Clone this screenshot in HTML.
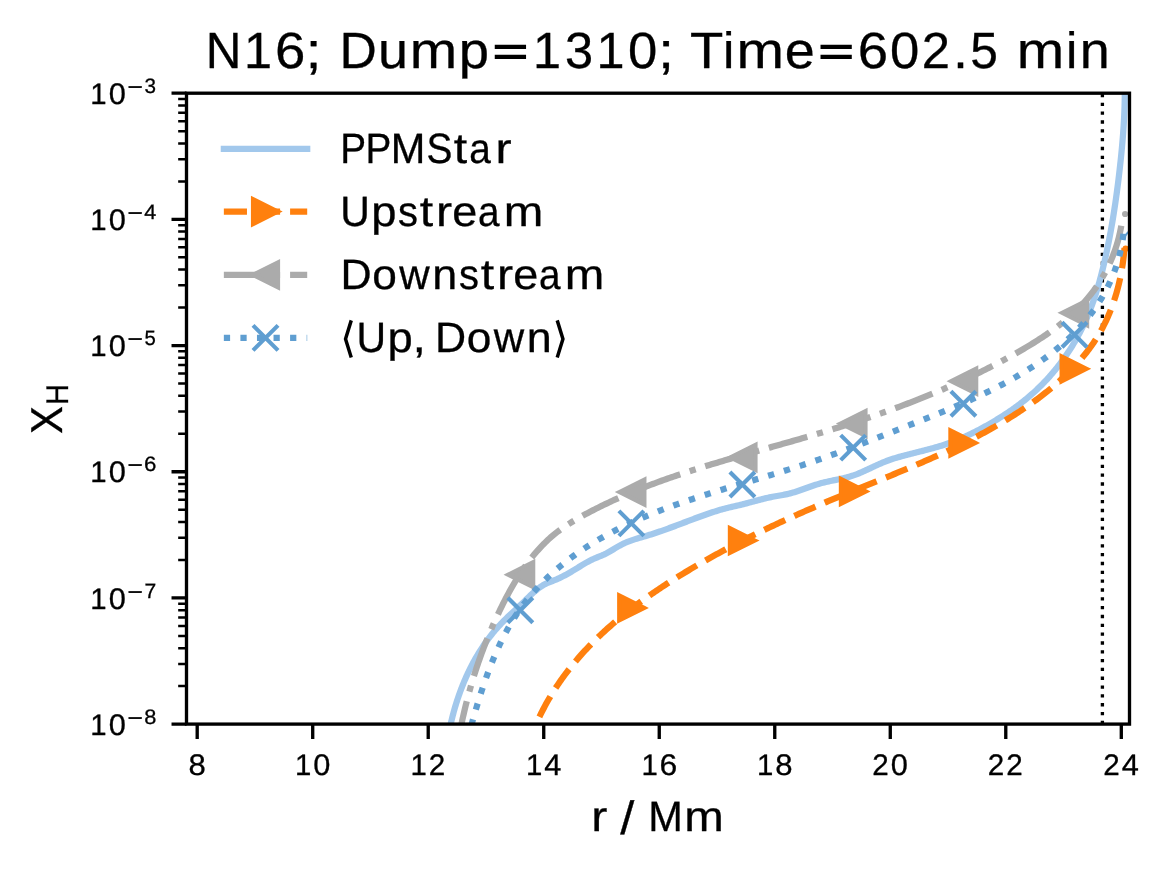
<!DOCTYPE html>
<html><head><meta charset="utf-8"><title>N16 profile</title>
<style>html,body{margin:0;padding:0;background:#fff}svg{display:block;will-change:transform}text{font-family:"Liberation Sans",sans-serif;white-space:pre}</style></head>
<body>
<svg width="1169" height="870" viewBox="0 0 1169 870">
<rect width="1169" height="870" fill="#fff"/>
<defs><clipPath id="ax"><rect x="186.5" y="93.2" width="943" height="630.9"/></clipPath></defs>
<g clip-path="url(#ax)" fill="none" stroke-linejoin="round">
<path d="M1102.4 724.1 V93.2" stroke="#000" stroke-width="3.33" stroke-dasharray="3.33 5.5"/>
<path d="M450.63 724.44 L450.95 723 L451.28 721.56 L451.62 720.12 L451.96 718.69 L452.32 717.25 L452.69 715.81 L453.06 714.37 L453.44 712.93 L453.83 711.5 L454.23 710.06 L454.64 708.62 L455.06 707.19 L455.49 705.75 L455.92 704.32 L456.37 702.89 L456.82 701.46 L457.29 700.03 L457.76 698.61 L458.24 697.18 L458.73 695.76 L459.23 694.34 L459.73 692.92 L460.25 691.5 L460.78 690.09 L461.31 688.68 L461.86 687.27 L462.41 685.87 L462.97 684.47 L463.54 683.07 L464.12 681.67 L464.71 680.28 L465.31 678.9 L465.92 677.51 L466.54 676.13 L467.17 674.76 L467.8 673.39 L468.45 672.02 L469.11 670.66 L469.77 669.3 L470.44 667.95 L471.13 666.6 L471.82 665.26 L472.52 663.92 L473.23 662.59 L473.95 661.27 L474.68 659.95 L475.42 658.63 L476.17 657.32 L476.93 656.02 L477.7 654.73 L478.48 653.44 L479.27 652.15 L480.06 650.88 L480.87 649.61 L481.69 648.34 L482.51 647.09 L483.35 645.84 L484.19 644.6 L485.05 643.37 L485.91 642.14 L486.79 640.92 L487.67 639.71 L488.56 638.51 L489.47 637.32 L490.38 636.13 L491.31 634.96 L492.24 633.79 L493.18 632.63 L494.13 631.48 L495.1 630.34 L496.07 629.21 L497.05 628.08 L498.04 626.97 L499.05 625.87 L500.06 624.77 L501.08 623.69 L502.11 622.61 L503.16 621.55 L504.2 620.49 L505.26 619.44 L506.33 618.4 L507.4 617.36 L508.47 616.33 L509.55 615.3 L510.64 614.27 L511.73 613.25 L512.82 612.22 L513.91 611.2 L515.01 610.18 L516.1 609.16 L517.2 608.14 L518.3 607.12 L519.39 606.09 L520.49 605.06 L521.58 604.02 L522.67 602.98 L523.75 601.93 L524.83 600.88 L525.91 599.82 L526.98 598.76 L528.06 597.7 L529.14 596.64 L530.23 595.59 L531.32 594.55 L532.42 593.52 L533.53 592.5 L534.65 591.5 L535.78 590.52 L536.93 589.56 L538.09 588.63 L539.28 587.73 L540.49 586.87 L541.73 586.05 L542.99 585.27 L544.28 584.54 L545.6 583.87 L546.95 583.24 L548.33 582.65 L549.72 582.09 L551.12 581.54 L552.52 581 L553.92 580.45 L555.32 579.88 L556.69 579.29 L558.06 578.68 L559.42 578.05 L560.77 577.4 L562.11 576.74 L563.44 576.06 L564.77 575.36 L566.08 574.65 L567.39 573.93 L568.7 573.19 L569.99 572.45 L571.29 571.69 L572.58 570.93 L573.86 570.15 L575.14 569.37 L576.42 568.58 L577.7 567.8 L578.98 567 L580.26 566.22 L581.54 565.43 L582.82 564.66 L584.11 563.89 L585.4 563.13 L586.71 562.39 L588.01 561.67 L589.33 560.96 L590.66 560.28 L592 559.62 L593.35 558.99 L594.72 558.39 L596.1 557.82 L597.48 557.26 L598.87 556.71 L600.26 556.15 L601.64 555.58 L603.02 554.99 L604.37 554.36 L605.72 553.69 L607.04 553 L608.36 552.28 L609.67 551.54 L610.97 550.78 L612.27 550.01 L613.56 549.23 L614.85 548.45 L616.14 547.68 L617.44 546.92 L618.74 546.16 L620.05 545.43 L621.37 544.72 L622.71 544.04 L624.05 543.39 L625.41 542.77 L626.78 542.18 L628.17 541.62 L629.56 541.09 L630.96 540.58 L632.38 540.09 L633.8 539.61 L635.22 539.15 L636.66 538.71 L638.09 538.27 L639.53 537.84 L640.98 537.42 L642.42 537 L643.87 536.58 L645.31 536.16 L646.75 535.73 L648.19 535.29 L649.63 534.85 L651.06 534.4 L652.5 533.95 L653.93 533.48 L655.35 533.02 L656.78 532.54 L658.2 532.06 L659.62 531.58 L661.04 531.08 L662.46 530.59 L663.87 530.09 L665.28 529.59 L666.7 529.08 L668.11 528.57 L669.52 528.05 L670.92 527.53 L672.33 527.01 L673.74 526.49 L675.14 525.96 L676.55 525.44 L677.95 524.91 L679.35 524.38 L680.75 523.85 L682.15 523.31 L683.56 522.78 L684.96 522.25 L686.36 521.72 L687.76 521.19 L689.16 520.66 L690.56 520.13 L691.96 519.6 L693.36 519.07 L694.77 518.55 L696.17 518.02 L697.57 517.5 L698.98 516.99 L700.38 516.47 L701.79 515.96 L703.2 515.46 L704.6 514.95 L706.01 514.46 L707.43 513.96 L708.84 513.48 L710.25 513 L711.67 512.52 L713.09 512.06 L714.51 511.6 L715.93 511.15 L717.36 510.71 L718.79 510.28 L720.22 509.86 L721.66 509.45 L723.09 509.05 L724.53 508.66 L725.98 508.29 L727.43 507.93 L728.88 507.58 L730.33 507.23 L731.79 506.9 L733.24 506.57 L734.7 506.23 L736.16 505.9 L737.62 505.56 L739.07 505.21 L740.53 504.86 L741.98 504.49 L743.44 504.12 L744.89 503.74 L746.34 503.36 L747.79 502.98 L749.24 502.59 L750.69 502.2 L752.14 501.8 L753.59 501.41 L755.04 501.02 L756.49 500.63 L757.95 500.25 L759.4 499.86 L760.85 499.49 L762.31 499.12 L763.76 498.75 L765.22 498.4 L766.68 498.05 L768.14 497.72 L769.6 497.39 L771.07 497.08 L772.53 496.78 L774 496.49 L775.48 496.22 L776.95 495.97 L778.43 495.71 L779.9 495.47 L781.38 495.22 L782.85 494.96 L784.32 494.69 L785.78 494.4 L787.24 494.09 L788.69 493.76 L790.13 493.4 L791.57 493.01 L793.01 492.6 L794.44 492.18 L795.86 491.73 L797.28 491.27 L798.7 490.79 L800.12 490.31 L801.53 489.81 L802.94 489.31 L804.35 488.8 L805.76 488.29 L807.18 487.78 L808.59 487.27 L810 486.76 L811.42 486.26 L812.84 485.77 L814.26 485.29 L815.69 484.82 L817.12 484.37 L818.55 483.93 L820 483.51 L821.44 483.11 L822.9 482.73 L824.36 482.37 L825.82 482.02 L827.29 481.69 L828.75 481.36 L830.23 481.05 L831.7 480.74 L833.18 480.43 L834.65 480.13 L836.12 479.83 L837.6 479.52 L839.07 479.21 L840.54 478.89 L842 478.57 L843.47 478.23 L844.92 477.88 L846.38 477.51 L847.82 477.13 L849.26 476.72 L850.69 476.29 L852.12 475.84 L853.54 475.36 L854.94 474.86 L856.35 474.34 L857.74 473.79 L859.13 473.23 L860.51 472.65 L861.89 472.06 L863.27 471.45 L864.64 470.84 L866.01 470.21 L867.37 469.58 L868.74 468.94 L870.1 468.3 L871.46 467.66 L872.82 467.01 L874.19 466.37 L875.55 465.74 L876.92 465.11 L878.29 464.48 L879.66 463.87 L881.04 463.27 L882.42 462.68 L883.8 462.1 L885.19 461.55 L886.59 461.01 L887.99 460.49 L889.4 459.99 L890.81 459.5 L892.23 459.03 L893.66 458.58 L895.08 458.13 L896.52 457.7 L897.95 457.28 L899.39 456.87 L900.83 456.47 L902.28 456.07 L903.73 455.68 L905.18 455.29 L906.63 454.91 L908.08 454.54 L909.54 454.16 L910.99 453.79 L912.45 453.42 L913.91 453.05 L915.36 452.69 L916.82 452.32 L918.28 451.95 L919.74 451.59 L921.2 451.22 L922.66 450.85 L924.12 450.48 L925.57 450.1 L927.03 449.72 L928.48 449.34 L929.94 448.95 L931.39 448.56 L932.84 448.17 L934.28 447.76 L935.73 447.35 L937.17 446.94 L938.61 446.51 L940.05 446.08 L941.48 445.64 L942.91 445.19 L944.33 444.73 L945.76 444.26 L947.17 443.78 L948.59 443.28 L950 442.78 L951.4 442.26 L952.8 441.74 L954.2 441.2 L955.59 440.65 L956.98 440.09 L958.37 439.52 L959.75 438.95 L961.12 438.36 L962.49 437.76 L963.86 437.15 L965.23 436.53 L966.59 435.91 L967.95 435.27 L969.3 434.63 L970.65 433.98 L972 433.32 L973.34 432.65 L974.68 431.98 L976.02 431.3 L977.35 430.61 L978.68 429.91 L980.01 429.21 L981.33 428.5 L982.65 427.79 L983.97 427.07 L985.28 426.34 L986.6 425.61 L987.9 424.87 L989.21 424.12 L990.51 423.37 L991.81 422.62 L993.11 421.86 L994.4 421.09 L995.69 420.32 L996.97 419.54 L998.26 418.76 L999.53 417.96 L1000.81 417.17 L1002.07 416.36 L1003.34 415.55 L1004.6 414.74 L1005.86 413.91 L1007.11 413.08 L1008.35 412.25 L1009.59 411.4 L1010.83 410.55 L1012.06 409.7 L1013.29 408.83 L1014.51 407.96 L1015.72 407.08 L1016.93 406.19 L1018.13 405.3 L1019.33 404.4 L1020.52 403.49 L1021.71 402.57 L1022.89 401.65 L1024.06 400.72 L1025.23 399.78 L1026.38 398.83 L1027.54 397.87 L1028.68 396.91 L1029.82 395.93 L1030.95 394.95 L1032.08 393.96 L1033.2 392.96 L1034.31 391.96 L1035.41 390.94 L1036.51 389.92 L1037.6 388.89 L1038.68 387.85 L1039.75 386.8 L1040.82 385.75 L1041.88 384.69 L1042.93 383.62 L1043.97 382.54 L1045.01 381.45 L1046.04 380.36 L1047.06 379.26 L1048.07 378.16 L1049.08 377.04 L1050.07 375.92 L1051.06 374.79 L1052.05 373.66 L1053.02 372.51 L1053.99 371.36 L1054.94 370.21 L1055.89 369.05 L1056.84 367.88 L1057.77 366.7 L1058.7 365.52 L1059.61 364.33 L1060.52 363.13 L1061.42 361.93 L1062.32 360.73 L1063.2 359.51 L1064.08 358.29 L1064.94 357.07 L1065.8 355.83 L1066.65 354.6 L1067.5 353.35 L1068.33 352.1 L1069.15 350.85 L1069.97 349.59 L1070.78 348.32 L1071.58 347.05 L1072.37 345.77 L1073.15 344.49 L1073.92 343.2 L1074.69 341.91 L1075.44 340.61 L1076.19 339.31 L1076.92 338 L1077.65 336.69 L1078.37 335.37 L1079.08 334.05 L1079.78 332.73 L1080.47 331.39 L1081.15 330.06 L1081.82 328.72 L1082.49 327.37 L1083.14 326.03 L1083.78 324.67 L1084.42 323.31 L1085.04 321.95 L1085.66 320.59 L1086.27 319.22 L1086.86 317.85 L1087.45 316.47 L1088.03 315.09 L1088.6 313.7 L1089.16 312.32 L1089.72 310.92 L1090.26 309.53 L1090.8 308.13 L1091.32 306.73 L1091.84 305.33 L1092.36 303.92 L1092.86 302.51 L1093.36 301.09 L1093.85 299.68 L1094.33 298.26 L1094.8 296.84 L1095.27 295.41 L1095.73 293.98 L1096.18 292.55 L1096.63 291.12 L1097.07 289.69 L1097.5 288.25 L1097.93 286.81 L1098.35 285.37 L1098.77 283.93 L1099.18 282.48 L1099.58 281.04 L1099.98 279.59 L1100.37 278.14 L1100.76 276.69 L1101.14 275.24 L1101.52 273.78 L1101.89 272.32 L1102.26 270.87 L1102.62 269.41 L1102.98 267.95 L1103.33 266.49 L1103.68 265.03 L1104.02 263.56 L1104.36 262.1 L1104.7 260.64 L1105.03 259.17 L1105.36 257.71 L1105.69 256.24 L1106.01 254.77 L1106.33 253.31 L1106.65 251.84 L1106.96 250.37 L1107.27 248.9 L1107.57 247.43 L1107.88 245.96 L1108.17 244.49 L1108.47 243.02 L1108.76 241.55 L1109.05 240.08 L1109.34 238.6 L1109.62 237.13 L1109.9 235.66 L1110.18 234.18 L1110.45 232.71 L1110.72 231.23 L1110.99 229.76 L1111.25 228.28 L1111.51 226.8 L1111.77 225.33 L1112.03 223.85 L1112.28 222.37 L1112.53 220.89 L1112.78 219.42 L1113.02 217.94 L1113.26 216.46 L1113.5 214.98 L1113.74 213.5 L1113.97 212.01 L1114.2 210.53 L1114.43 209.05 L1114.65 207.57 L1114.88 206.09 L1115.1 204.6 L1115.32 203.12 L1115.53 201.64 L1115.75 200.15 L1115.96 198.67 L1116.17 197.18 L1116.37 195.7 L1116.58 194.21 L1116.78 192.73 L1116.98 191.24 L1117.17 189.76 L1117.37 188.27 L1117.56 186.78 L1117.75 185.29 L1117.94 183.81 L1118.13 182.32 L1118.31 180.83 L1118.5 179.34 L1118.68 177.85 L1118.86 176.36 L1119.03 174.88 L1119.21 173.39 L1119.38 171.9 L1119.56 170.41 L1119.72 168.92 L1119.89 167.42 L1120.06 165.93 L1120.22 164.44 L1120.39 162.95 L1120.55 161.46 L1120.7 159.97 L1120.86 158.48 L1121.02 156.98 L1121.17 155.49 L1121.32 154 L1121.46 152.5 L1121.61 151.01 L1121.75 149.52 L1121.89 148.02 L1122.03 146.53 L1122.16 145.04 L1122.29 143.54 L1122.42 142.05 L1122.55 140.55 L1122.67 139.06 L1122.79 137.56 L1122.91 136.07 L1123.03 134.57 L1123.14 133.08 L1123.25 131.58 L1123.35 130.08 L1123.45 128.59 L1123.55 127.09 L1123.65 125.59 L1123.74 124.1 L1123.83 122.6 L1123.91 121.1 L1124 119.6 L1124.07 118.11 L1124.15 116.61 L1124.22 115.11 L1124.28 113.61 L1124.35 112.11 L1124.41 110.61 L1124.46 109.12 L1124.51 107.62 L1124.56 106.12 L1124.6 104.62 L1124.64 103.12 L1124.67 101.62 L1124.7 100.12 L1124.73 98.62 L1124.75 97.12 L1124.76 95.62 L1124.78 94.12 L1124.78 92.62 L1124.79 91.11 L1124.78 89.61 L1124.78 88.11 L1124.76 86.61 L1124.75 85.11 L1124.73 83.61 L1124.7 82.1 L1124.67 80.6 L1124.65 79.99" stroke="#A2C8EC" stroke-width="6.25" stroke-linecap="square"/>
<path d="M539.41 716.85 L540.31 715 L541.22 713.15 L542.15 711.32 L543.09 709.49 L544.04 707.68 L545 705.88 L545.98 704.09 L546.97 702.31 L547.98 700.54 L548.99 698.78 L550.02 697.04 L551.06 695.3 L552.12 693.57 L553.19 691.86 L554.26 690.15 L555.36 688.46 L556.46 686.78 L557.57 685.1 L558.7 683.44 L559.84 681.78 L560.99 680.14 L562.15 678.51 L563.32 676.88 L564.5 675.27 L565.7 673.67 L566.9 672.07 L568.12 670.49 L569.35 668.91 L570.59 667.35 L571.83 665.79 L573.09 664.24 L574.36 662.71 L575.64 661.18 L576.93 659.66 L578.23 658.15 L579.54 656.65 L580.85 655.16 L582.18 653.67 L583.52 652.2 L584.87 650.73 L586.22 649.28 L587.59 647.83 L588.96 646.39 L590.35 644.96 L591.74 643.54 L593.14 642.12 L594.55 640.72 L595.96 639.32 L597.39 637.93 L598.82 636.55 L600.27 635.18 L601.72 633.81 L603.17 632.46 L604.64 631.11 L606.11 629.77 L607.59 628.43 L609.08 627.11 L610.58 625.79 L612.08 624.48 L613.59 623.18 L615.11 621.88 L616.63 620.59 L618.16 619.31 L619.7 618.04 L621.24 616.77 L622.79 615.51 L624.35 614.26 L625.91 613.02 L627.48 611.78 L629.05 610.55 L630.63 609.32 L632.22 608.1 L633.81 606.89 L635.41 605.69 L637.01 604.49 L638.62 603.3 L640.23 602.11 L641.85 600.93 L643.47 599.76 L645.1 598.59 L646.73 597.43 L648.37 596.28 L650.01 595.13 L651.66 593.99 L653.31 592.85 L654.96 591.72 L656.62 590.59 L658.28 589.48 L659.95 588.36 L661.62 587.25 L663.29 586.15 L664.96 585.05 L666.64 583.96 L668.33 582.87 L670.01 581.79 L671.7 580.71 L673.39 579.64 L675.09 578.58 L676.79 577.52 L678.49 576.46 L680.19 575.41 L681.89 574.36 L683.6 573.32 L685.31 572.28 L687.02 571.25 L688.74 570.22 L690.45 569.19 L692.17 568.17 L693.89 567.16 L695.61 566.15 L697.34 565.14 L699.06 564.14 L700.79 563.14 L702.53 562.15 L704.26 561.16 L705.99 560.18 L707.73 559.2 L709.47 558.22 L711.21 557.25 L712.96 556.28 L714.7 555.32 L716.45 554.36 L718.2 553.4 L719.95 552.45 L721.71 551.5 L723.46 550.56 L725.22 549.62 L726.98 548.68 L728.74 547.75 L730.51 546.82 L732.27 545.89 L734.04 544.97 L735.81 544.06 L737.58 543.14 L739.35 542.23 L741.13 541.32 L742.9 540.42 L744.68 539.52 L746.46 538.62 L748.24 537.73 L750.03 536.84 L751.81 535.95 L753.6 535.07 L755.39 534.19 L757.18 533.31 L758.97 532.44 L760.77 531.57 L762.56 530.7 L764.36 529.83 L766.16 528.97 L767.96 528.11 L769.76 527.26 L771.56 526.4 L773.37 525.55 L775.18 524.71 L776.99 523.86 L778.8 523.02 L780.61 522.18 L782.42 521.35 L784.23 520.51 L786.05 519.68 L787.87 518.85 L789.69 518.03 L791.51 517.21 L793.33 516.39 L795.15 515.57 L796.98 514.75 L798.8 513.94 L800.63 513.13 L802.46 512.32 L804.29 511.51 L806.12 510.71 L807.95 509.9 L809.78 509.1 L811.62 508.31 L813.46 507.51 L815.29 506.72 L817.13 505.93 L818.97 505.14 L820.81 504.35 L822.66 503.56 L824.5 502.78 L826.34 502 L828.19 501.22 L830.04 500.44 L831.88 499.66 L833.73 498.89 L835.58 498.11 L837.44 497.34 L839.29 496.57 L841.14 495.8 L843 495.03 L844.85 494.27 L846.71 493.5 L848.56 492.74 L850.42 491.98 L852.28 491.21 L854.14 490.45 L856 489.69 L857.86 488.93 L859.72 488.18 L861.58 487.42 L863.44 486.66 L865.3 485.9 L867.16 485.14 L869.03 484.39 L870.89 483.63 L872.75 482.87 L874.61 482.11 L876.47 481.36 L878.34 480.6 L880.2 479.84 L882.06 479.08 L883.92 478.32 L885.78 477.56 L887.64 476.8 L889.5 476.03 L891.36 475.27 L893.22 474.51 L895.08 473.74 L896.93 472.97 L898.79 472.2 L900.64 471.43 L902.5 470.66 L904.35 469.89 L906.2 469.11 L908.06 468.33 L909.91 467.55 L911.75 466.77 L913.6 465.99 L915.45 465.2 L917.29 464.41 L919.14 463.62 L920.98 462.83 L922.82 462.03 L924.66 461.23 L926.5 460.43 L928.33 459.62 L930.16 458.82 L932 458 L933.83 457.19 L935.65 456.37 L937.48 455.55 L939.3 454.72 L941.12 453.89 L942.94 453.06 L944.76 452.23 L946.57 451.39 L948.39 450.54 L950.2 449.69 L952 448.84 L953.81 447.98 L955.61 447.12 L957.41 446.25 L959.2 445.38 L961 444.51 L962.79 443.63 L964.58 442.74 L966.36 441.85 L968.14 440.96 L969.92 440.06 L971.7 439.15 L973.47 438.24 L975.24 437.32 L977 436.4 L978.77 435.47 L980.53 434.54 L982.28 433.6 L984.03 432.65 L985.78 431.7 L987.52 430.74 L989.26 429.78 L991 428.81 L992.73 427.83 L994.46 426.85 L996.19 425.86 L997.91 424.86 L999.62 423.86 L1001.34 422.84 L1003.05 421.83 L1004.75 420.8 L1006.45 419.77 L1008.14 418.73 L1009.83 417.68 L1011.52 416.63 L1013.2 415.57 L1014.88 414.5 L1016.55 413.42 L1018.22 412.33 L1019.88 411.24 L1021.54 410.14 L1023.19 409.03 L1024.84 407.91 L1026.48 406.79 L1028.12 405.65 L1029.75 404.51 L1031.38 403.35 L1033 402.19 L1034.61 401.02 L1036.23 399.85 L1037.83 398.66 L1039.43 397.46 L1041.02 396.25 L1042.61 395.04 L1044.18 393.81 L1045.75 392.58 L1047.32 391.34 L1048.87 390.08 L1050.42 388.82 L1051.95 387.55 L1053.48 386.26 L1055 384.97 L1056.51 383.66 L1058.01 382.35 L1059.5 381.03 L1060.98 379.69 L1062.44 378.35 L1063.9 376.99 L1065.35 375.62 L1066.78 374.25 L1068.2 372.86 L1069.61 371.46 L1071 370.05 L1072.39 368.63 L1073.76 367.19 L1075.11 365.75 L1076.45 364.29 L1077.78 362.83 L1079.09 361.35 L1080.39 359.86 L1081.68 358.35 L1082.94 356.84 L1084.19 355.31 L1085.43 353.77 L1086.65 352.22 L1087.85 350.66 L1089.04 349.08 L1090.2 347.49 L1091.35 345.89 L1092.49 344.28 L1093.6 342.65 L1094.69 341.01 L1095.77 339.36 L1096.83 337.69 L1097.87 336.02 L1098.88 334.32 L1099.88 332.62 L1100.86 330.9 L1101.81 329.17 L1102.75 327.42 L1103.66 325.66 L1104.56 323.89 L1105.43 322.11 L1106.29 320.31 L1107.12 318.5 L1107.93 316.68 L1108.72 314.85 L1109.5 313.01 L1110.25 311.16 L1110.98 309.29 L1111.7 307.42 L1112.39 305.54 L1113.07 303.64 L1113.72 301.74 L1114.36 299.83 L1114.98 297.91 L1115.57 295.98 L1116.15 294.05 L1116.72 292.1 L1117.26 290.15 L1117.78 288.19 L1118.29 286.22 L1118.77 284.25 L1119.24 282.27 L1119.69 280.29 L1120.13 278.3 L1120.54 276.3 L1120.94 274.3 L1121.32 272.29 L1121.68 270.28 L1122.02 268.26 L1122.35 266.25 L1122.66 264.22 L1122.95 262.2 L1123.23 260.17 L1123.49 258.13 L1123.73 256.1 L1123.95 254.06 L1124.16 252.02 L1124.35 249.98 L1124.52 248.01" stroke="#FF800E" stroke-width="6.25" stroke-dasharray="23.12 10"/>
<path d="M644.2 607.9 L619.2 595.4 L619.2 620.4 Z" fill="#FF800E" stroke="#FF800E" stroke-width="4.17" stroke-linejoin="miter"/>
<path d="M754.9 540.5 L729.9 528 L729.9 553 Z" fill="#FF800E" stroke="#FF800E" stroke-width="4.17" stroke-linejoin="miter"/>
<path d="M865.9 491.4 L840.9 478.9 L840.9 503.9 Z" fill="#FF800E" stroke="#FF800E" stroke-width="4.17" stroke-linejoin="miter"/>
<path d="M975.4 442.9 L950.4 430.4 L950.4 455.4 Z" fill="#FF800E" stroke="#FF800E" stroke-width="4.17" stroke-linejoin="miter"/>
<path d="M1086.6 368.8 L1061.6 356.3 L1061.6 381.3 Z" fill="#FF800E" stroke="#FF800E" stroke-width="4.17" stroke-linejoin="miter"/>
<path d="M461.33 724.65 L461.76 722.65 L462.19 720.65 L462.62 718.66 L463.07 716.67 L463.52 714.69 L463.97 712.72 L464.43 710.75 L464.9 708.78 L465.38 706.82 L465.86 704.86 L466.35 702.91 L466.84 700.96 L467.35 699.02 L467.86 697.08 L468.37 695.14 L468.9 693.21 L469.43 691.29 L469.96 689.37 L470.51 687.45 L471.06 685.53 L471.62 683.62 L472.18 681.72 L472.75 679.81 L473.33 677.92 L473.92 676.02 L474.52 674.13 L475.12 672.24 L475.73 670.35 L476.34 668.47 L476.97 666.59 L477.6 664.71 L478.24 662.84 L478.89 660.97 L479.54 659.1 L480.2 657.24 L480.87 655.37 L481.55 653.51 L482.24 651.66 L482.93 649.8 L483.63 647.95 L484.34 646.1 L485.06 644.25 L485.78 642.4 L486.52 640.56 L487.26 638.71 L488.01 636.87 L488.77 635.03 L489.53 633.2 L490.31 631.36 L491.09 629.53 L491.88 627.69 L492.68 625.86 L493.49 624.03 L494.31 622.2 L495.13 620.37 L495.96 618.54 L496.81 616.72 L497.66 614.89 L498.52 613.07 L499.39 611.24 L500.26 609.42 L501.15 607.6 L502.05 605.78 L502.95 603.96 L503.87 602.14 L504.79 600.33 L505.73 598.52 L506.67 596.72 L507.63 594.92 L508.6 593.13 L509.58 591.34 L510.57 589.56 L511.57 587.78 L512.58 586.02 L513.61 584.26 L514.64 582.5 L515.69 580.76 L516.75 579.02 L517.83 577.3 L518.92 575.58 L520.02 573.87 L521.13 572.18 L522.26 570.49 L523.4 568.82 L524.55 567.16 L525.72 565.51 L526.91 563.88 L528.11 562.26 L529.32 560.65 L530.55 559.05 L531.79 557.47 L533.05 555.91 L534.33 554.36 L535.62 552.83 L536.92 551.32 L538.25 549.82 L539.59 548.34 L540.94 546.88 L542.32 545.43 L543.71 544.01 L545.11 542.6 L546.54 541.22 L547.98 539.85 L549.44 538.51 L550.92 537.18 L552.42 535.88 L553.94 534.6 L555.47 533.35 L557.03 532.11 L558.6 530.9 L560.2 529.71 L561.81 528.55 L563.44 527.41 L565.08 526.29 L566.75 525.19 L568.42 524.11 L570.11 523.05 L571.81 522.01 L573.53 520.98 L575.25 519.96 L576.98 518.96 L578.72 517.97 L580.46 516.99 L582.21 516.02 L583.96 515.06 L585.72 514.11 L587.48 513.17 L589.24 512.23 L591 511.3 L592.77 510.39 L594.55 509.47 L596.32 508.57 L598.1 507.67 L599.89 506.79 L601.67 505.91 L603.46 505.03 L605.25 504.17 L607.05 503.31 L608.85 502.46 L610.65 501.61 L612.46 500.78 L614.26 499.95 L616.07 499.13 L617.89 498.31 L619.7 497.5 L621.52 496.7 L623.34 495.9 L625.17 495.11 L627 494.33 L628.83 493.55 L630.66 492.78 L632.5 492.02 L634.33 491.26 L636.17 490.51 L638.02 489.76 L639.86 489.02 L641.71 488.29 L643.56 487.56 L645.41 486.84 L647.27 486.12 L649.13 485.4 L650.99 484.7 L652.85 484 L654.71 483.3 L656.58 482.61 L658.45 481.92 L660.32 481.24 L662.19 480.56 L664.06 479.89 L665.94 479.22 L667.82 478.56 L669.7 477.9 L671.58 477.24 L673.47 476.59 L675.35 475.95 L677.24 475.31 L679.13 474.67 L681.02 474.03 L682.91 473.4 L684.81 472.78 L686.7 472.15 L688.6 471.54 L690.5 470.92 L692.4 470.31 L694.3 469.7 L696.2 469.09 L698.11 468.49 L700.02 467.89 L701.92 467.3 L703.83 466.7 L705.74 466.11 L707.65 465.53 L709.57 464.94 L711.48 464.36 L713.39 463.78 L715.31 463.2 L717.23 462.63 L719.14 462.06 L721.06 461.48 L722.98 460.92 L724.9 460.35 L726.82 459.79 L728.74 459.22 L730.67 458.66 L732.59 458.1 L734.52 457.54 L736.44 456.99 L738.37 456.43 L740.29 455.88 L742.22 455.33 L744.15 454.78 L746.07 454.23 L748 453.68 L749.93 453.13 L751.86 452.58 L753.79 452.03 L755.72 451.49 L757.65 450.94 L759.58 450.4 L761.51 449.85 L763.44 449.31 L765.37 448.76 L767.3 448.22 L769.23 447.68 L771.17 447.13 L773.1 446.59 L775.03 446.04 L776.96 445.5 L778.89 444.95 L780.82 444.41 L782.75 443.86 L784.68 443.32 L786.61 442.77 L788.54 442.22 L790.47 441.67 L792.4 441.12 L794.33 440.57 L796.26 440.02 L798.19 439.46 L800.11 438.91 L802.04 438.35 L803.97 437.79 L805.89 437.23 L807.82 436.67 L809.74 436.11 L811.67 435.55 L813.59 434.98 L815.51 434.41 L817.43 433.84 L819.35 433.27 L821.27 432.69 L823.19 432.12 L825.11 431.54 L827.03 430.95 L828.94 430.37 L830.86 429.78 L832.77 429.19 L834.69 428.6 L836.6 428.01 L838.51 427.41 L840.42 426.81 L842.33 426.21 L844.24 425.61 L846.14 425 L848.05 424.39 L849.95 423.78 L851.86 423.16 L853.76 422.54 L855.66 421.92 L857.56 421.3 L859.46 420.67 L861.36 420.04 L863.26 419.41 L865.15 418.78 L867.05 418.14 L868.94 417.5 L870.83 416.85 L872.73 416.21 L874.61 415.56 L876.5 414.9 L878.39 414.25 L880.28 413.59 L882.16 412.92 L884.04 412.26 L885.93 411.59 L887.81 410.92 L889.68 410.24 L891.56 409.56 L893.44 408.88 L895.31 408.19 L897.19 407.5 L899.06 406.81 L900.93 406.11 L902.8 405.41 L904.67 404.7 L906.53 404 L908.4 403.29 L910.26 402.57 L912.12 401.85 L913.98 401.13 L915.84 400.4 L917.7 399.67 L919.55 398.94 L921.4 398.2 L923.26 397.46 L925.11 396.71 L926.95 395.96 L928.8 395.21 L930.65 394.45 L932.49 393.69 L934.33 392.92 L936.17 392.15 L938.01 391.38 L939.85 390.6 L941.68 389.81 L943.51 389.03 L945.34 388.24 L947.17 387.44 L949 386.64 L950.83 385.84 L952.65 385.03 L954.47 384.21 L956.29 383.4 L958.11 382.57 L959.93 381.75 L961.74 380.92 L963.55 380.08 L965.36 379.24 L967.17 378.39 L968.98 377.54 L970.78 376.69 L972.59 375.83 L974.39 374.97 L976.18 374.1 L977.98 373.22 L979.78 372.34 L981.57 371.46 L983.36 370.57 L985.15 369.68 L986.93 368.78 L988.71 367.88 L990.5 366.97 L992.28 366.05 L994.05 365.13 L995.83 364.21 L997.6 363.28 L999.37 362.35 L1001.14 361.41 L1002.91 360.46 L1004.67 359.51 L1006.43 358.56 L1008.19 357.59 L1009.95 356.63 L1011.7 355.66 L1013.45 354.68 L1015.2 353.7 L1016.95 352.71 L1018.7 351.71 L1020.44 350.71 L1022.18 349.71 L1023.91 348.69 L1025.64 347.67 L1027.37 346.65 L1029.09 345.61 L1030.81 344.57 L1032.52 343.52 L1034.22 342.47 L1035.92 341.4 L1037.62 340.33 L1039.3 339.24 L1040.98 338.15 L1042.65 337.05 L1044.32 335.94 L1045.97 334.82 L1047.62 333.68 L1049.26 332.54 L1050.89 331.39 L1052.51 330.23 L1054.12 329.05 L1055.72 327.87 L1057.3 326.67 L1058.88 325.46 L1060.45 324.24 L1062 323 L1063.55 321.76 L1065.08 320.5 L1066.59 319.22 L1068.1 317.94 L1069.59 316.63 L1071.07 315.32 L1072.53 313.99 L1073.98 312.65 L1075.42 311.29 L1076.84 309.92 L1078.24 308.53 L1079.63 307.12 L1081 305.7 L1082.36 304.27 L1083.69 302.81 L1085.02 301.34 L1086.32 299.86 L1087.61 298.35 L1088.87 296.83 L1090.12 295.29 L1091.35 293.74 L1092.56 292.16 L1093.76 290.57 L1094.93 288.96 L1096.08 287.33 L1097.21 285.68 L1098.32 284.01 L1099.41 282.33 L1100.48 280.62 L1101.52 278.91 L1102.55 277.17 L1103.55 275.43 L1104.53 273.66 L1105.49 271.89 L1106.42 270.1 L1107.34 268.3 L1108.23 266.48 L1109.09 264.66 L1109.93 262.82 L1110.75 260.97 L1111.55 259.11 L1112.32 257.25 L1113.06 255.37 L1113.78 253.49 L1114.48 251.6 L1115.15 249.7 L1115.79 247.8 L1116.41 245.88 L1117 243.97 L1117.57 242.05 L1118.11 240.12 L1118.62 238.19 L1119.11 236.26 L1119.57 234.33 L1120 232.39 L1120.4 230.45 L1120.78 228.52 L1121.13 226.58 L1121.27 225.75" stroke="#ABABAB" stroke-width="6.25" stroke-dasharray="40 10 6.25 10" stroke-dashoffset="16"/>
<path d="M508.2 574.7 L533.2 562.2 L533.2 587.2 Z" fill="#ABABAB" stroke="#ABABAB" stroke-width="4.17" stroke-linejoin="miter"/>
<path d="M619.4 492.1 L644.4 479.6 L644.4 504.6 Z" fill="#ABABAB" stroke="#ABABAB" stroke-width="4.17" stroke-linejoin="miter"/>
<path d="M730.5 457.4 L755.5 444.9 L755.5 469.9 Z" fill="#ABABAB" stroke="#ABABAB" stroke-width="4.17" stroke-linejoin="miter"/>
<path d="M840.5 423.5 L865.5 411 L865.5 436 Z" fill="#ABABAB" stroke="#ABABAB" stroke-width="4.17" stroke-linejoin="miter"/>
<path d="M951.2 381.2 L976.2 368.7 L976.2 393.7 Z" fill="#ABABAB" stroke="#ABABAB" stroke-width="4.17" stroke-linejoin="miter"/>
<path d="M1062.1 312.8 L1087.1 300.3 L1087.1 325.3 Z" fill="#ABABAB" stroke="#ABABAB" stroke-width="4.17" stroke-linejoin="miter"/>
<path d="M471.59 724.45 L472.11 722.59 L472.64 720.73 L473.17 718.86 L473.7 716.98 L474.24 715.1 L474.79 713.21 L475.34 711.33 L475.9 709.43 L476.46 707.54 L477.03 705.64 L477.6 703.74 L478.19 701.83 L478.77 699.92 L479.37 698.01 L479.97 696.1 L480.58 694.19 L481.2 692.28 L481.82 690.37 L482.46 688.45 L483.09 686.54 L483.74 684.62 L484.4 682.71 L485.06 680.8 L485.74 678.89 L486.42 676.98 L487.11 675.07 L487.81 673.16 L488.52 671.26 L489.24 669.36 L489.97 667.46 L490.7 665.56 L491.45 663.67 L492.21 661.78 L492.98 659.9 L493.76 658.02 L494.55 656.15 L495.35 654.28 L496.16 652.41 L496.99 650.55 L497.82 648.7 L498.67 646.85 L499.52 645.01 L500.39 643.18 L501.28 641.36 L502.17 639.54 L503.08 637.73 L504 635.93 L504.93 634.13 L505.88 632.35 L506.83 630.57 L507.81 628.8 L508.79 627.05 L509.79 625.3 L510.81 623.56 L511.83 621.83 L512.88 620.12 L513.93 618.41 L515 616.72 L516.09 615.04 L517.19 613.37 L518.3 611.71 L519.44 610.07 L520.58 608.44 L521.75 606.82 L522.92 605.21 L524.12 603.62 L525.32 602.04 L526.55 600.47 L527.78 598.92 L529.03 597.38 L530.3 595.85 L531.58 594.33 L532.87 592.83 L534.18 591.34 L535.5 589.86 L536.83 588.39 L538.18 586.94 L539.54 585.5 L540.91 584.07 L542.29 582.65 L543.69 581.24 L545.1 579.85 L546.52 578.47 L547.96 577.1 L549.4 575.75 L550.86 574.4 L552.32 573.07 L553.8 571.75 L555.29 570.44 L556.79 569.14 L558.3 567.86 L559.82 566.59 L561.35 565.32 L562.89 564.07 L564.44 562.83 L566 561.61 L567.57 560.39 L569.15 559.19 L570.74 557.99 L572.33 556.81 L573.94 555.64 L575.55 554.48 L577.17 553.34 L578.8 552.2 L580.44 551.07 L582.09 549.96 L583.74 548.85 L585.4 547.76 L587.07 546.68 L588.74 545.61 L590.42 544.55 L592.11 543.5 L593.8 542.46 L595.5 541.43 L597.21 540.41 L598.92 539.4 L600.64 538.41 L602.36 537.42 L604.09 536.45 L605.83 535.48 L607.56 534.52 L609.31 533.58 L611.06 532.64 L612.81 531.72 L614.57 530.8 L616.34 529.89 L618.11 528.99 L619.88 528.1 L621.66 527.22 L623.45 526.35 L625.23 525.49 L627.03 524.64 L628.82 523.79 L630.62 522.95 L632.43 522.13 L634.24 521.31 L636.06 520.49 L637.87 519.69 L639.7 518.89 L641.52 518.1 L643.35 517.32 L645.19 516.54 L647.02 515.78 L648.86 515.02 L650.71 514.26 L652.56 513.51 L654.41 512.77 L656.26 512.04 L658.12 511.31 L659.98 510.59 L661.85 509.88 L663.72 509.17 L665.59 508.46 L667.46 507.77 L669.34 507.07 L671.22 506.39 L673.1 505.71 L674.98 505.03 L676.87 504.36 L678.76 503.69 L680.65 503.03 L682.55 502.38 L684.44 501.72 L686.34 501.08 L688.24 500.43 L690.15 499.79 L692.05 499.16 L693.96 498.53 L695.87 497.9 L697.78 497.28 L699.69 496.66 L701.61 496.04 L703.52 495.43 L705.44 494.82 L707.36 494.21 L709.28 493.6 L711.2 493 L713.12 492.4 L715.05 491.81 L716.97 491.21 L718.9 490.62 L720.83 490.03 L722.75 489.44 L724.68 488.85 L726.61 488.27 L728.54 487.68 L730.47 487.1 L732.4 486.52 L734.33 485.94 L736.27 485.36 L738.2 484.78 L740.13 484.21 L742.06 483.63 L744 483.06 L745.93 482.48 L747.86 481.9 L749.79 481.33 L751.73 480.75 L753.66 480.18 L755.59 479.6 L757.52 479.03 L759.45 478.45 L761.38 477.87 L763.31 477.29 L765.24 476.71 L767.17 476.13 L769.09 475.55 L771.02 474.97 L772.95 474.38 L774.87 473.8 L776.79 473.21 L778.72 472.62 L780.64 472.03 L782.56 471.44 L784.47 470.84 L786.39 470.24 L788.3 469.64 L790.22 469.04 L792.13 468.43 L794.04 467.82 L795.95 467.21 L797.85 466.59 L799.76 465.97 L801.66 465.35 L803.56 464.72 L805.46 464.09 L807.35 463.46 L809.25 462.82 L811.14 462.18 L813.03 461.54 L814.92 460.89 L816.8 460.24 L818.69 459.59 L820.57 458.93 L822.45 458.27 L824.33 457.61 L826.2 456.95 L828.08 456.28 L829.95 455.61 L831.83 454.93 L833.7 454.26 L835.57 453.58 L837.44 452.89 L839.3 452.21 L841.17 451.52 L843.04 450.83 L844.9 450.14 L846.76 449.45 L848.62 448.75 L850.48 448.05 L852.34 447.35 L854.2 446.65 L856.06 445.95 L857.92 445.24 L859.77 444.53 L861.63 443.82 L863.48 443.11 L865.34 442.4 L867.19 441.69 L869.05 440.97 L870.9 440.25 L872.75 439.53 L874.6 438.81 L876.45 438.09 L878.3 437.37 L880.16 436.65 L882.01 435.92 L883.86 435.2 L885.71 434.47 L887.56 433.74 L889.41 433.01 L891.26 432.28 L893.11 431.55 L894.96 430.82 L896.81 430.09 L898.66 429.36 L900.51 428.63 L902.36 427.9 L904.22 427.16 L906.07 426.43 L907.92 425.7 L909.78 424.96 L911.63 424.23 L913.48 423.5 L915.34 422.76 L917.2 422.03 L919.05 421.29 L920.91 420.56 L922.76 419.82 L924.62 419.09 L926.48 418.35 L928.33 417.61 L930.19 416.86 L932.04 416.12 L933.9 415.38 L935.75 414.63 L937.61 413.88 L939.46 413.13 L941.31 412.37 L943.17 411.61 L945.02 410.85 L946.87 410.09 L948.72 409.32 L950.57 408.55 L952.41 407.78 L954.26 407 L956.1 406.22 L957.95 405.43 L959.79 404.64 L961.63 403.85 L963.47 403.05 L965.3 402.24 L967.14 401.43 L968.97 400.62 L970.8 399.8 L972.63 398.97 L974.46 398.14 L976.28 397.31 L978.1 396.46 L979.92 395.61 L981.74 394.76 L983.55 393.9 L985.36 393.03 L987.17 392.15 L988.98 391.27 L990.78 390.38 L992.58 389.49 L994.38 388.58 L996.17 387.67 L997.96 386.75 L999.75 385.82 L1001.53 384.89 L1003.31 383.94 L1005.09 382.99 L1006.86 382.03 L1008.63 381.06 L1010.4 380.08 L1012.15 379.09 L1013.91 378.09 L1015.66 377.09 L1017.4 376.07 L1019.14 375.05 L1020.87 374.02 L1022.6 372.98 L1024.32 371.92 L1026.03 370.86 L1027.74 369.79 L1029.44 368.71 L1031.13 367.62 L1032.82 366.52 L1034.49 365.41 L1036.16 364.29 L1037.82 363.16 L1039.48 362.02 L1041.12 360.87 L1042.76 359.71 L1044.38 358.53 L1046 357.35 L1047.6 356.16 L1049.2 354.96 L1050.79 353.74 L1052.36 352.52 L1053.93 351.28 L1055.49 350.03 L1057.03 348.77 L1058.56 347.5 L1060.08 346.22 L1061.59 344.93 L1063.09 343.62 L1064.58 342.31 L1066.05 340.98 L1067.51 339.64 L1068.95 338.29 L1070.39 336.92 L1071.81 335.55 L1073.21 334.16 L1074.61 332.76 L1075.99 331.35 L1077.35 329.92 L1078.7 328.48 L1080.03 327.03 L1081.35 325.57 L1082.66 324.1 L1083.95 322.61 L1085.22 321.11 L1086.48 319.59 L1087.72 318.07 L1088.94 316.52 L1090.15 314.97 L1091.34 313.4 L1092.51 311.82 L1093.67 310.23 L1094.8 308.62 L1095.92 307 L1097.02 305.37 L1098.11 303.72 L1099.17 302.06 L1100.22 300.38 L1101.25 298.7 L1102.25 297 L1103.24 295.28 L1104.21 293.56 L1105.16 291.82 L1106.09 290.07 L1107 288.31 L1107.89 286.53 L1108.76 284.74 L1109.6 282.94 L1110.43 281.13 L1111.24 279.3 L1112.02 277.47 L1112.78 275.62 L1113.52 273.75 L1114.24 271.88 L1114.94 269.99 L1115.61 268.1 L1116.26 266.19 L1116.89 264.27 L1117.49 262.33 L1118.07 260.39 L1118.63 258.43 L1119.17 256.47 L1119.68 254.49 L1120.16 252.5 L1120.62 250.5 L1121.06 248.49 L1121.47 246.46 L1121.86 244.43 L1122.22 242.38 L1122.56 240.33 L1122.87 238.26 L1123.16 236.18 L1123.42 234.09 L1123.63 232.2" stroke="#5F9ED1" stroke-width="6.25" stroke-dasharray="6.25 10.31" stroke-dashoffset="1.03"/>
<path d="M507.8 597.8 L532.8 622.8 M507.8 622.8 L532.8 597.8" fill="none" stroke="#5F9ED1" stroke-width="4.17" stroke-linecap="butt"/>
<path d="M618.9 510.9 L643.9 535.9 M618.9 535.9 L643.9 510.9" fill="none" stroke="#5F9ED1" stroke-width="4.17" stroke-linecap="butt"/>
<path d="M729.9 472 L754.9 497 M729.9 497 L754.9 472" fill="none" stroke="#5F9ED1" stroke-width="4.17" stroke-linecap="butt"/>
<path d="M840.7 435.1 L865.7 460.1 M840.7 460.1 L865.7 435.1" fill="none" stroke="#5F9ED1" stroke-width="4.17" stroke-linecap="butt"/>
<path d="M950.9 391.3 L975.9 416.3 M950.9 416.3 L975.9 391.3" fill="none" stroke="#5F9ED1" stroke-width="4.17" stroke-linecap="butt"/>
<path d="M1062 322.2 L1087 347.2 M1062 347.2 L1087 322.2" fill="none" stroke="#5F9ED1" stroke-width="4.17" stroke-linecap="butt"/>
<path d="M1125.2 235.6 L1128.4 231.8" stroke="#5F9ED1" stroke-width="2"/>
<circle cx="1125.1" cy="214" r="3.1" fill="#ABABAB"/>
<circle cx="1125.6" cy="248.7" r="3.1" fill="#FF800E"/>
</g>
<g stroke="#000" fill="none">
<rect x="186.5" y="93.2" width="943" height="630.9" stroke-width="3.33" stroke-linejoin="miter"/>
<path d="M197.2 724.1 v14.98M312.71 724.1 v14.98M428.22 724.1 v14.98M543.74 724.1 v14.98M659.25 724.1 v14.98M774.76 724.1 v14.98M890.27 724.1 v14.98M1005.78 724.1 v14.98M1121.3 724.1 v14.98M186.5 93.2 h-14.98M186.5 219.38 h-14.98M186.5 345.56 h-14.98M186.5 471.74 h-14.98M186.5 597.92 h-14.98M186.5 724.1 h-14.98" stroke-width="3.33"/>
<path d="M186.5 181.4 h-8.33M186.5 159.18 h-8.33M186.5 143.41 h-8.33M186.5 131.18 h-8.33M186.5 121.19 h-8.33M186.5 112.75 h-8.33M186.5 105.43 h-8.33M186.5 98.97 h-8.33M186.5 307.58 h-8.33M186.5 285.36 h-8.33M186.5 269.59 h-8.33M186.5 257.36 h-8.33M186.5 247.37 h-8.33M186.5 238.93 h-8.33M186.5 231.61 h-8.33M186.5 225.15 h-8.33M186.5 433.76 h-8.33M186.5 411.54 h-8.33M186.5 395.77 h-8.33M186.5 383.54 h-8.33M186.5 373.55 h-8.33M186.5 365.11 h-8.33M186.5 357.79 h-8.33M186.5 351.33 h-8.33M186.5 559.94 h-8.33M186.5 537.72 h-8.33M186.5 521.95 h-8.33M186.5 509.72 h-8.33M186.5 499.73 h-8.33M186.5 491.29 h-8.33M186.5 483.97 h-8.33M186.5 477.51 h-8.33M186.5 686.12 h-8.33M186.5 663.9 h-8.33M186.5 648.13 h-8.33M186.5 635.9 h-8.33M186.5 625.91 h-8.33M186.5 617.47 h-8.33M186.5 610.15 h-8.33M186.5 603.69 h-8.33" stroke-width="2.5"/>
</g>
<g fill="none">
<path d="M223.85 148.8 H307.2" stroke="#A2C8EC" stroke-width="6.25" stroke-linecap="square"/>
<path d="M223.85 211.6 H307.2" stroke="#FF800E" stroke-width="6.25" stroke-dasharray="23.12 10"/>
<path d="M278.02 211.6 L253.02 199.1 L253.02 224.1 Z" fill="#FF800E" stroke="#FF800E" stroke-width="4.17" stroke-linejoin="miter"/>
<path d="M223.85 274.9 H307.2" stroke="#ABABAB" stroke-width="6.25" stroke-dasharray="40 10 6.25 10"/>
<path d="M253.02 274.9 L278.02 262.4 L278.02 287.4 Z" fill="#ABABAB" stroke="#ABABAB" stroke-width="4.17" stroke-linejoin="miter"/>
<path d="M223.85 337.9 H307.2" stroke="#5F9ED1" stroke-width="6.25" stroke-dasharray="6.25 10.31"/>
<path d="M253.02 325.4 L278.02 350.4 M253.02 350.4 L278.02 325.4" fill="none" stroke="#5F9ED1" stroke-width="4.17" stroke-linecap="butt"/>
</g>
<g font-family="'Liberation Sans', sans-serif" fill="#000" stroke="#000" stroke-width="0.3" text-rendering="geometricPrecision">
<text transform="matrix(1 0 0 1.0200 0 68)" font-size="50"><tspan x="205.86" textLength="35.67" lengthAdjust="spacingAndGlyphs">N</tspan><tspan x="244.06" textLength="28" lengthAdjust="spacingAndGlyphs">1</tspan><tspan x="274.93" textLength="30.34" lengthAdjust="spacingAndGlyphs">6</tspan><tspan x="305.4" textLength="16.11" lengthAdjust="spacingAndGlyphs">;</tspan> <tspan x="339.43" textLength="37.36" lengthAdjust="spacingAndGlyphs">D</tspan><tspan x="378.01" textLength="29.98" lengthAdjust="spacingAndGlyphs">u</tspan><tspan x="409.71" textLength="47.46" lengthAdjust="spacingAndGlyphs">m</tspan><tspan x="458.7" textLength="30.25" lengthAdjust="spacingAndGlyphs">p</tspan></text>
<text transform="matrix(1.2096 0 0 0.7988 492.7 65.48)" font-size="50" stroke-width="1.58">=</text>
<text transform="matrix(1 0 0 1.0200 0 68)" font-size="50"><tspan x="532.95" textLength="28" lengthAdjust="spacingAndGlyphs">1</tspan><tspan x="564.99" textLength="28.15" lengthAdjust="spacingAndGlyphs">3</tspan><tspan x="596.58" textLength="28" lengthAdjust="spacingAndGlyphs">1</tspan><tspan x="627.97" textLength="29.31" lengthAdjust="spacingAndGlyphs">0</tspan><tspan x="657.92" textLength="16.11" lengthAdjust="spacingAndGlyphs">;</tspan> <tspan x="689.91" textLength="33.31" lengthAdjust="spacingAndGlyphs">T</tspan><tspan x="723.11" textLength="11.36" lengthAdjust="spacingAndGlyphs">i</tspan><tspan x="736.47" textLength="47.46" lengthAdjust="spacingAndGlyphs">m</tspan><tspan x="784.88" textLength="30.04" lengthAdjust="spacingAndGlyphs">e</tspan></text>
<text transform="matrix(1.2096 0 0 0.7988 818.48 65.48)" font-size="50" stroke-width="1.58">=</text>
<text transform="matrix(1 0 0 1.0200 0 68)" font-size="50"><tspan x="857.8" textLength="30.34" lengthAdjust="spacingAndGlyphs">6</tspan><tspan x="890.12" textLength="29.31" lengthAdjust="spacingAndGlyphs">0</tspan><tspan x="921.81" textLength="28.25" lengthAdjust="spacingAndGlyphs">2</tspan><tspan x="952.92" textLength="15.03" lengthAdjust="spacingAndGlyphs">.</tspan><tspan x="970.27" textLength="27.66" lengthAdjust="spacingAndGlyphs">5</tspan> <tspan x="1016.87" textLength="47.46" lengthAdjust="spacingAndGlyphs">m</tspan><tspan x="1066.11" textLength="11.36" lengthAdjust="spacingAndGlyphs">i</tspan><tspan x="1079.67" textLength="29.98" lengthAdjust="spacingAndGlyphs">n</tspan></text>
<text transform="matrix(1 0 0 1.0200 0 831)" font-size="41.67"><tspan x="591.21" textLength="16.1" lengthAdjust="spacingAndGlyphs">r</tspan> </text>
<text transform="matrix(1.2127 0 0 1.1190 620.34 834.41)" font-size="41.67">/</text>
<text transform="matrix(1 0 0 1.0200 0 831)" font-size="41.67"> <tspan x="648.28" textLength="34.61" lengthAdjust="spacingAndGlyphs">M</tspan><tspan x="684.15" textLength="39.55" lengthAdjust="spacingAndGlyphs">m</tspan></text>
<g transform="translate(62.1 434.0) rotate(-90)">
<text transform="matrix(1 0 0 1.0700 0 0)" font-size="41.67"><tspan x="0" textLength="27.81" lengthAdjust="spacingAndGlyphs">X</tspan><tspan x="29.1" textLength="20.95" lengthAdjust="spacingAndGlyphs" font-size="29.17" y="5.51">H</tspan></text>
</g>
<text transform="matrix(1 0 0 1.0200 0 775)" font-size="29.17"><tspan x="188.63" textLength="17.28" lengthAdjust="spacingAndGlyphs">8</tspan></text>
<text transform="matrix(1 0 0 1.0200 0 775)" font-size="29.17"><tspan x="294.98" textLength="16.33" lengthAdjust="spacingAndGlyphs">1</tspan><tspan x="313.26" textLength="17.1" lengthAdjust="spacingAndGlyphs">0</tspan></text>
<text transform="matrix(1 0 0 1.0200 0 775)" font-size="29.17"><tspan x="410.49" textLength="16.33" lengthAdjust="spacingAndGlyphs">1</tspan><tspan x="428.7" textLength="16.48" lengthAdjust="spacingAndGlyphs">2</tspan></text>
<text transform="matrix(1 0 0 1.0200 0 775)" font-size="29.17"><tspan x="526" textLength="16.33" lengthAdjust="spacingAndGlyphs">1</tspan><tspan x="544.28" textLength="17.1" lengthAdjust="spacingAndGlyphs">4</tspan></text>
<text transform="matrix(1 0 0 1.0200 0 775)" font-size="29.17"><tspan x="641.52" textLength="16.33" lengthAdjust="spacingAndGlyphs">1</tspan><tspan x="659.5" textLength="17.7" lengthAdjust="spacingAndGlyphs">6</tspan></text>
<text transform="matrix(1 0 0 1.0200 0 775)" font-size="29.17"><tspan x="757.03" textLength="16.33" lengthAdjust="spacingAndGlyphs">1</tspan><tspan x="775.22" textLength="17.28" lengthAdjust="spacingAndGlyphs">8</tspan></text>
<text transform="matrix(1 0 0 1.0200 0 775)" font-size="29.17"><tspan x="872.22" textLength="16.48" lengthAdjust="spacingAndGlyphs">2</tspan><tspan x="890.82" textLength="17.1" lengthAdjust="spacingAndGlyphs">0</tspan></text>
<text transform="matrix(1 0 0 1.0200 0 775)" font-size="29.17"><tspan x="987.73" textLength="16.48" lengthAdjust="spacingAndGlyphs">2</tspan><tspan x="1006.26" textLength="16.48" lengthAdjust="spacingAndGlyphs">2</tspan></text>
<text transform="matrix(1 0 0 1.0200 0 775)" font-size="29.17"><tspan x="1103.24" textLength="16.48" lengthAdjust="spacingAndGlyphs">2</tspan><tspan x="1121.84" textLength="17.1" lengthAdjust="spacingAndGlyphs">4</tspan></text>
<text transform="matrix(1 0 0 1.0200 0 104)" font-size="29.17"><tspan x="90.37" textLength="16.33" lengthAdjust="spacingAndGlyphs">1</tspan><tspan x="108.65" textLength="17.1" lengthAdjust="spacingAndGlyphs">0</tspan></text>
<text transform="matrix(1.2884 0 0 1.1644 127.6 95)" font-size="20.42">−</text>
<text transform="matrix(1 0 0 1.0200 0 104)" font-size="29.17"><tspan x="144.59" textLength="11.5" lengthAdjust="spacingAndGlyphs" font-size="20.42" y="-10.88">3</tspan></text>
<text transform="matrix(1 0 0 1.0200 0 230)" font-size="29.17"><tspan x="90.37" textLength="16.33" lengthAdjust="spacingAndGlyphs">1</tspan><tspan x="108.65" textLength="17.1" lengthAdjust="spacingAndGlyphs">0</tspan></text>
<text transform="matrix(1.2884 0 0 1.1644 127.6 221)" font-size="20.42">−</text>
<text transform="matrix(1 0 0 1.0200 0 230)" font-size="29.17"><tspan x="144.32" textLength="11.97" lengthAdjust="spacingAndGlyphs" font-size="20.42" y="-10.88">4</tspan></text>
<text transform="matrix(1 0 0 1.0200 0 356)" font-size="29.17"><tspan x="90.37" textLength="16.33" lengthAdjust="spacingAndGlyphs">1</tspan><tspan x="108.65" textLength="17.1" lengthAdjust="spacingAndGlyphs">0</tspan></text>
<text transform="matrix(1.2884 0 0 1.1644 127.6 347)" font-size="20.42">−</text>
<text transform="matrix(1 0 0 1.0200 0 356)" font-size="29.17"><tspan x="144.58" textLength="11.3" lengthAdjust="spacingAndGlyphs" font-size="20.42" y="-10.88">5</tspan></text>
<text transform="matrix(1 0 0 1.0200 0 482)" font-size="29.17"><tspan x="90.37" textLength="16.33" lengthAdjust="spacingAndGlyphs">1</tspan><tspan x="108.65" textLength="17.1" lengthAdjust="spacingAndGlyphs">0</tspan></text>
<text transform="matrix(1.2884 0 0 1.1644 127.6 473)" font-size="20.42">−</text>
<text transform="matrix(1 0 0 1.0200 0 482)" font-size="29.17"><tspan x="144.11" textLength="12.39" lengthAdjust="spacingAndGlyphs" font-size="20.42" y="-10.88">6</tspan></text>
<text transform="matrix(1 0 0 1.0200 0 609)" font-size="29.17"><tspan x="90.37" textLength="16.33" lengthAdjust="spacingAndGlyphs">1</tspan><tspan x="108.65" textLength="17.1" lengthAdjust="spacingAndGlyphs">0</tspan></text>
<text transform="matrix(1.2884 0 0 1.1644 127.6 600)" font-size="20.42">−</text>
<text transform="matrix(1 0 0 1.0200 0 609)" font-size="29.17"><tspan x="144.42" textLength="11.71" lengthAdjust="spacingAndGlyphs" font-size="20.42" y="-10.88">7</tspan></text>
<text transform="matrix(1 0 0 1.0200 0 735)" font-size="29.17"><tspan x="90.37" textLength="16.33" lengthAdjust="spacingAndGlyphs">1</tspan><tspan x="108.65" textLength="17.1" lengthAdjust="spacingAndGlyphs">0</tspan></text>
<text transform="matrix(1.2884 0 0 1.1644 127.6 726)" font-size="20.42">−</text>
<text transform="matrix(1 0 0 1.0200 0 735)" font-size="29.17"><tspan x="144.26" textLength="12.1" lengthAdjust="spacingAndGlyphs" font-size="20.42" y="-10.88">8</tspan></text>
<text transform="matrix(1 0 0 1.0200 0 163)" font-size="41.67"><tspan x="340.31" textLength="25.85" lengthAdjust="spacingAndGlyphs">P</tspan><tspan x="365.41" textLength="25.85" lengthAdjust="spacingAndGlyphs">P</tspan><tspan x="390.78" textLength="34.61" lengthAdjust="spacingAndGlyphs">M</tspan><tspan x="426.54" textLength="25.85" lengthAdjust="spacingAndGlyphs">S</tspan><tspan x="453.76" textLength="13.43" lengthAdjust="spacingAndGlyphs">t</tspan><tspan x="469.29" textLength="21.55" lengthAdjust="spacingAndGlyphs">a</tspan><tspan x="495.47" textLength="16.1" lengthAdjust="spacingAndGlyphs">r</tspan></text>
<text transform="matrix(1 0 0 1.0200 0 226)" font-size="41.67"><tspan x="340.36" textLength="29.57" lengthAdjust="spacingAndGlyphs">U</tspan><tspan x="371.23" textLength="25.21" lengthAdjust="spacingAndGlyphs">p</tspan><tspan x="397.94" textLength="19.97" lengthAdjust="spacingAndGlyphs">s</tspan><tspan x="419.8" textLength="13.43" lengthAdjust="spacingAndGlyphs">t</tspan><tspan x="436" textLength="16.1" lengthAdjust="spacingAndGlyphs">r</tspan><tspan x="452.3" textLength="25.03" lengthAdjust="spacingAndGlyphs">e</tspan><tspan x="478.05" textLength="21.55" lengthAdjust="spacingAndGlyphs">a</tspan><tspan x="503.66" textLength="39.55" lengthAdjust="spacingAndGlyphs">m</tspan></text>
<text transform="matrix(1 0 0 1.0200 0 289)" font-size="41.67"><tspan x="340.45" textLength="31.13" lengthAdjust="spacingAndGlyphs">D</tspan><tspan x="372.39" textLength="24.63" lengthAdjust="spacingAndGlyphs">o</tspan><tspan x="399.23" textLength="30.41" lengthAdjust="spacingAndGlyphs">w</tspan><tspan x="432.26" textLength="24.98" lengthAdjust="spacingAndGlyphs">n</tspan><tspan x="458.99" textLength="19.97" lengthAdjust="spacingAndGlyphs">s</tspan><tspan x="480.86" textLength="13.43" lengthAdjust="spacingAndGlyphs">t</tspan><tspan x="497.06" textLength="16.1" lengthAdjust="spacingAndGlyphs">r</tspan><tspan x="513.35" textLength="25.03" lengthAdjust="spacingAndGlyphs">e</tspan><tspan x="539.1" textLength="21.55" lengthAdjust="spacingAndGlyphs">a</tspan><tspan x="564.71" textLength="39.55" lengthAdjust="spacingAndGlyphs">m</tspan></text>
<path d="M351.26 320.38 L345.53 338.94 L351.26 357.49" fill="none" stroke="#000" stroke-width="3.46" stroke-linejoin="miter" stroke-miterlimit="10"/>
<text transform="matrix(1 0 0 1.0200 0 352)" font-size="41.67"><tspan x="356.6" textLength="29.57" lengthAdjust="spacingAndGlyphs">U</tspan><tspan x="387.47" textLength="25.21" lengthAdjust="spacingAndGlyphs">p</tspan><tspan x="412.51" textLength="13.43" lengthAdjust="spacingAndGlyphs">,</tspan> <tspan x="434.92" textLength="31.13" lengthAdjust="spacingAndGlyphs">D</tspan><tspan x="466.86" textLength="24.63" lengthAdjust="spacingAndGlyphs">o</tspan><tspan x="493.7" textLength="30.41" lengthAdjust="spacingAndGlyphs">w</tspan><tspan x="526.73" textLength="24.98" lengthAdjust="spacingAndGlyphs">n</tspan></text>
<path d="M557.21 320.38 L562.94 338.94 L557.21 357.49" fill="none" stroke="#000" stroke-width="3.46" stroke-linejoin="miter" stroke-miterlimit="10"/>
</g>
</svg>
</body></html>
